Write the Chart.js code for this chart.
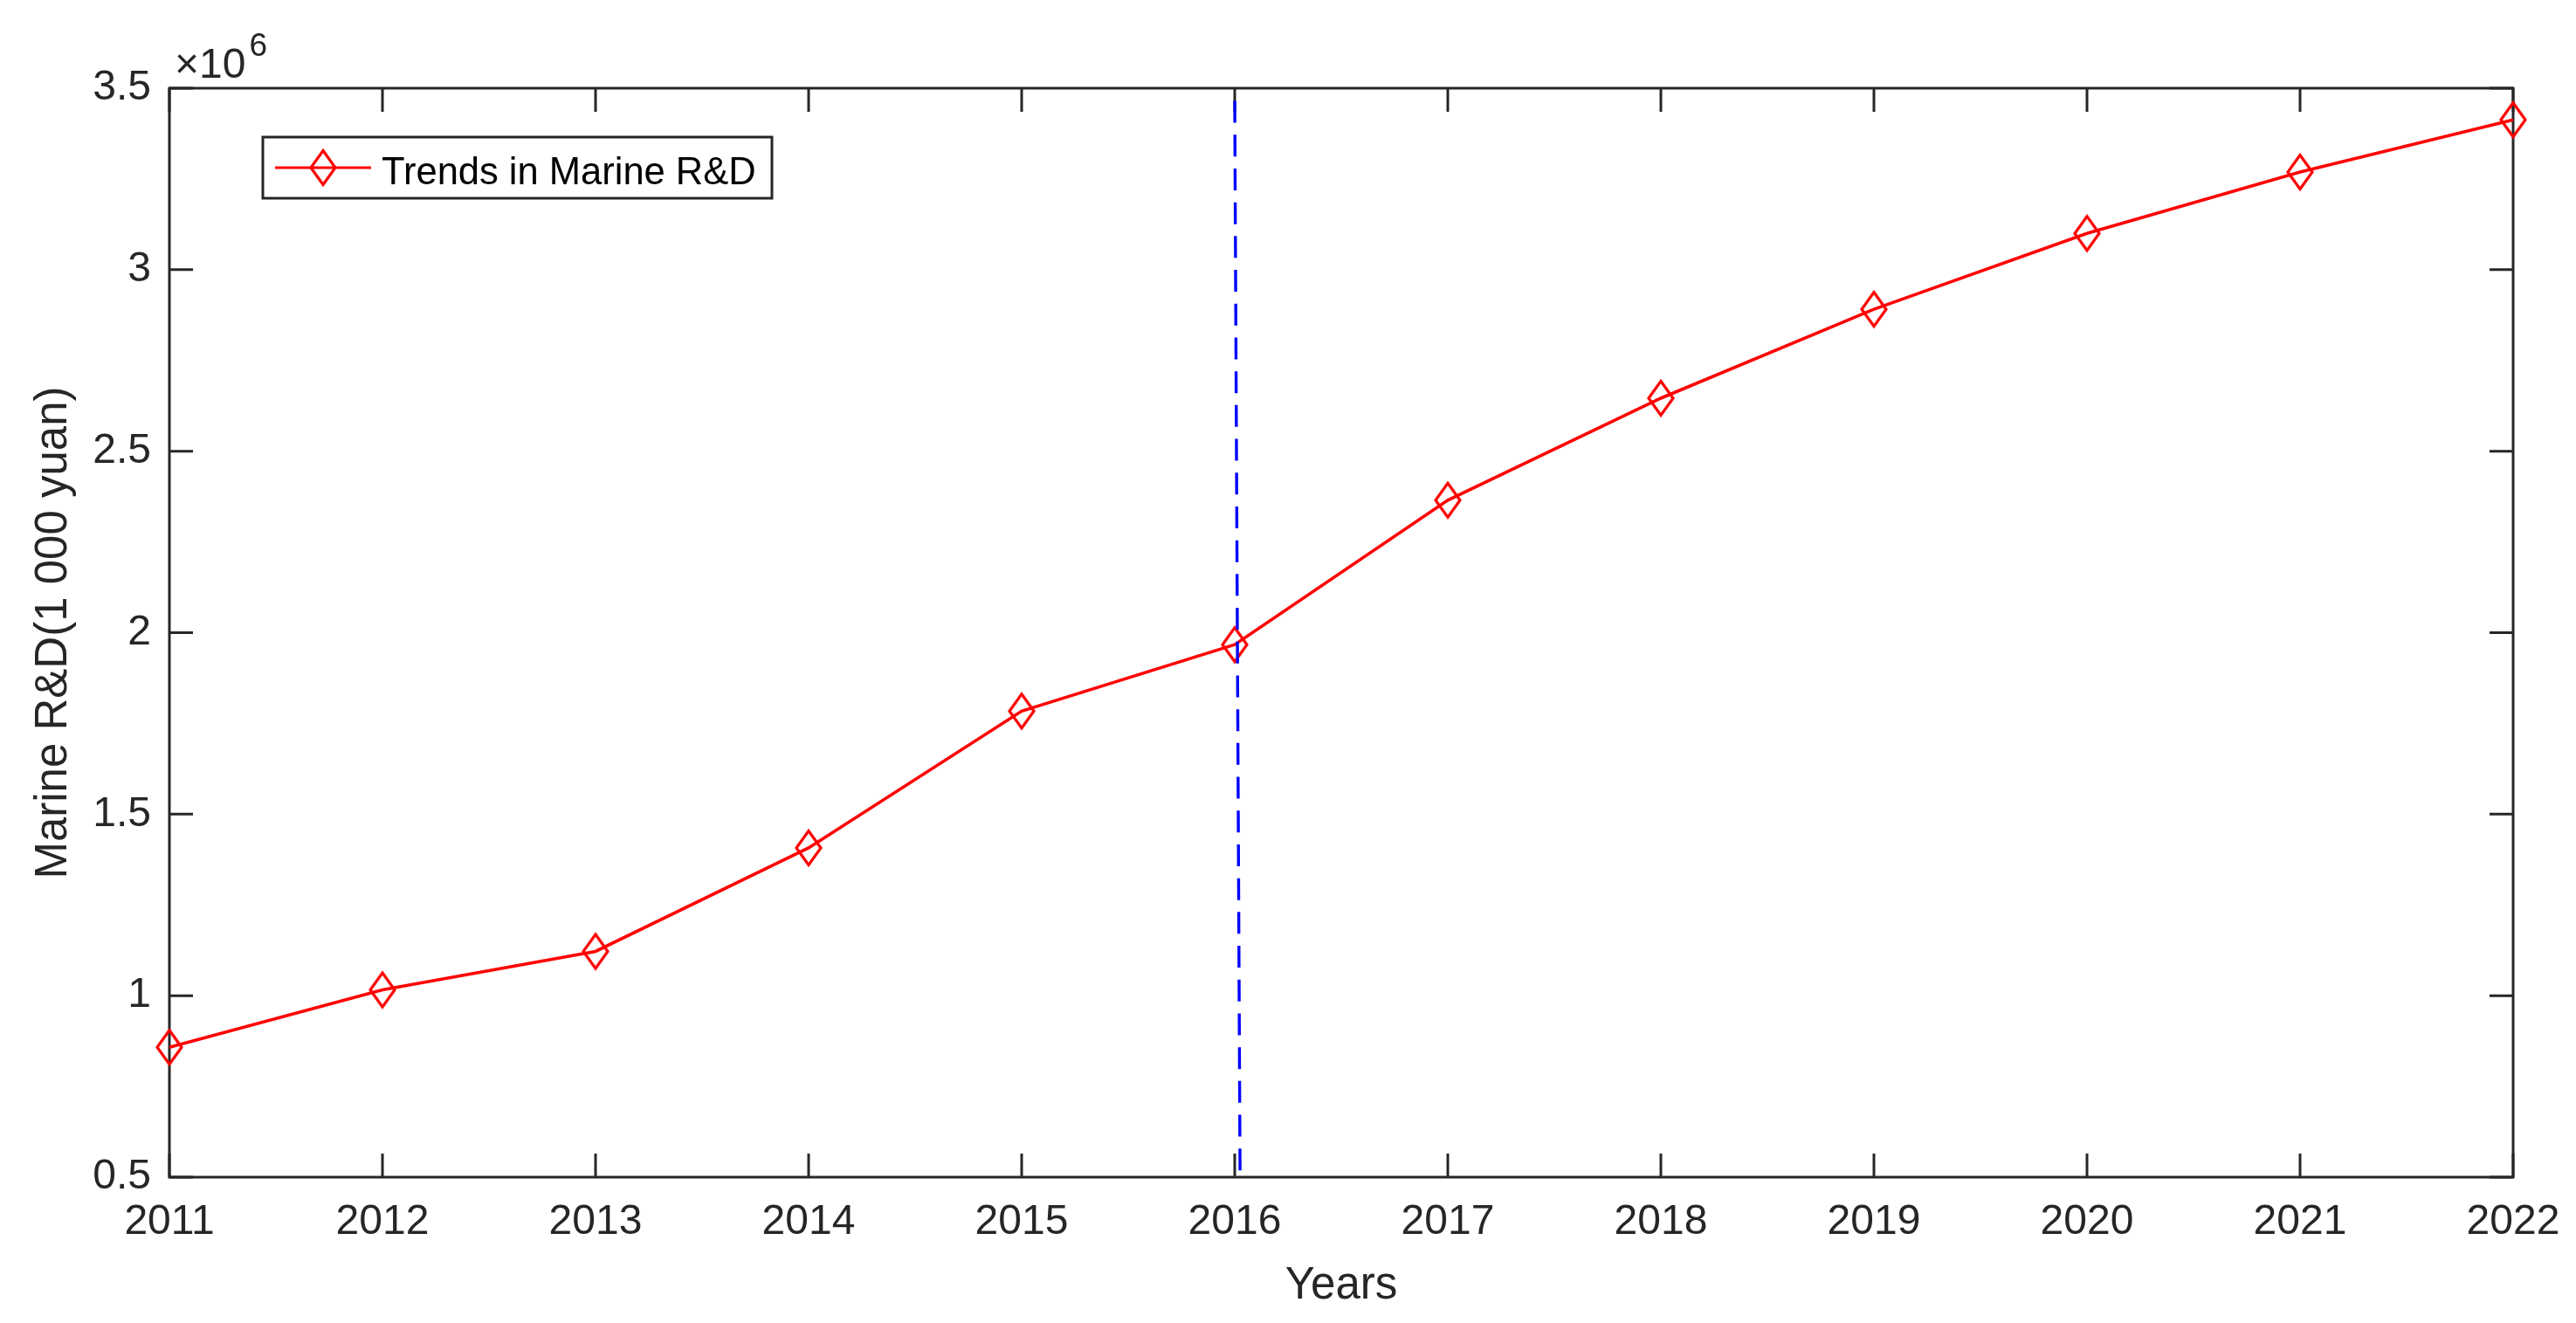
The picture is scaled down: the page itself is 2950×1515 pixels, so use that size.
<!DOCTYPE html>
<html>
<head>
<meta charset="utf-8">
<title>Trends in Marine R&D</title>
<script src="https://cdn.jsdelivr.net/npm/chart.js@4.4.1/dist/chart.umd.min.js"></script>
<style>
  html, body { margin: 0; padding: 0; background: #ffffff; }
  #wrap { width: 2950px; height: 1515px; }
</style>
</head>
<body>
<div id="wrap"><canvas id="myChart" width="2950" height="1515"></canvas></div>
<script>
// data (values in 1 000 yuan)
const years = [2011, 2012, 2013, 2014, 2015, 2016, 2017, 2018, 2019, 2020, 2021, 2022];
const marineRD = [858000, 1016000, 1122000, 1407000, 1784000, 1967000, 2365000, 2646000, 2891000, 3100000, 3269000, 3413000];
const seriesLabel = 'Trends in Marine R&D';

// dashed marker line at 2016 (slightly slanted in the original)
const cutX = [2016.0, 2016.025];
const cutY = [3465000, 500000];

// axis ticks
const yTicks = [500000, 1000000, 1500000, 2000000, 2500000, 3000000, 3500000];
const xMin = 2011, xMax = 2022;

const axisColor = '#262626';
const fontFamily = '"Liberation Sans", Arial, Helvetica, sans-serif';

(function() {
    function diamondMarker() {
        const c = document.createElement('canvas');
        c.width = 34;
        c.height = 46;
        const g = c.getContext('2d');
        g.strokeStyle = '#ff0000';
        g.lineWidth = 3.2;
        g.beginPath();
        g.moveTo(17, 3.5);
        g.lineTo(31, 23);
        g.lineTo(17, 42.5);
        g.lineTo(3, 23);
        g.closePath();
        g.stroke();
        return c;
    }
    const marker = diamondMarker();

    // box, inward ticks, exponent label and legend like the MATLAB figure
    const matlabAxes = {
        id: 'matlabAxes',
        beforeDatasetsDraw(chart) {
            const ctx = chart.ctx;
            const a = chart.chartArea;
            const xs = chart.scales.x, ys = chart.scales.y;
            const tl = 27;
            ctx.save();
            ctx.strokeStyle = axisColor;
            ctx.lineWidth = 3;
            ctx.strokeRect(a.left, a.top, a.right - a.left, a.bottom - a.top);
            ctx.beginPath();
            xs.ticks.forEach(t => {
                const px = xs.getPixelForValue(t.value);
                ctx.moveTo(px, a.bottom); ctx.lineTo(px, a.bottom - tl);
                ctx.moveTo(px, a.top); ctx.lineTo(px, a.top + tl);
            });
            ys.ticks.forEach(t => {
                const py = ys.getPixelForValue(t.value);
                ctx.moveTo(a.left, py); ctx.lineTo(a.left + tl, py);
                ctx.moveTo(a.right, py); ctx.lineTo(a.right - tl, py);
            });
            ctx.stroke();
            ctx.restore();
        },
        afterDraw(chart) {
            const ctx = chart.ctx;
            const a = chart.chartArea;
            ctx.save();
            // x10^6 exponent
            ctx.fillStyle = axisColor;
            ctx.textBaseline = 'alphabetic';
            ctx.textAlign = 'left';
            ctx.font = '48px ' + fontFamily;
            ctx.fillText('\u00d710', a.left + 6, a.top - 12);
            const w = ctx.measureText('\u00d710').width;
            ctx.font = '37px ' + fontFamily;
            ctx.fillText('6', a.left + 6 + w + 4, a.top - 37);

            // legend box
            const bx = 301, by = 157, bw = 583, bh = 70;
            ctx.fillStyle = '#ffffff';
            ctx.fillRect(bx, by, bw, bh);
            ctx.strokeStyle = axisColor;
            ctx.lineWidth = 3;
            ctx.strokeRect(bx, by, bw, bh);
            const ly = by + bh / 2;
            ctx.strokeStyle = '#ff0000';
            ctx.lineWidth = 3.2;
            ctx.beginPath();
            ctx.moveTo(315, ly);
            ctx.lineTo(425, ly);
            ctx.stroke();
            ctx.drawImage(marker, 370 - marker.width / 2, ly - marker.height / 2);
            ctx.fillStyle = '#000000';
            ctx.font = '43.5px ' + fontFamily;
            ctx.fillText(chart.data.datasets[1].label, 437, 211);
            ctx.restore();
        }
    };

    const ctx = document.getElementById('myChart');
    new Chart(ctx, {
        type: 'line',
        data: {
            datasets: [{
                label: 'cut',
                data: cutX.map((x, i) => ({ x: x, y: cutY[i] })),
                borderColor: '#0000ff',
                borderWidth: 3.4,
                borderDash: [25, 13.7],
                pointRadius: 0,
                fill: false,
                tension: 0
            }, {
                label: seriesLabel,
                data: years.map((yr, i) => ({ x: yr, y: marineRD[i] })),
                borderColor: '#ff0000',
                borderWidth: 3.6,
                pointStyle: marker,
                pointRadius: 20,
                fill: false,
                tension: 0,
                clip: false
            }]
        },
        options: {
            responsive: false,
            animation: false,
            devicePixelRatio: 1,
            layout: { padding: { top: 101, right: 72, left: 0, bottom: 0 } },
            plugins: {
                legend: { display: false },
                tooltip: { enabled: false }
            },
            scales: {
                x: {
                    type: 'linear',
                    min: xMin,
                    max: xMax,
                    afterFit(scale) {
                        scale.height = 167;
                        scale.paddingLeft = 0;
                        scale.paddingRight = 0;
                    },
                    afterBuildTicks(scale) {
                        scale.ticks = years.map(v => ({ value: v }));
                    },
                    ticks: {
                        color: axisColor,
                        font: { family: fontFamily, size: 48, lineHeight: 1 },
                        padding: 28,
                        maxRotation: 0,
                        autoSkip: false,
                        callback: v => String(v)
                    },
                    grid: { display: false, drawTicks: false },
                    border: { display: false },
                    title: {
                        display: true,
                        text: 'Years',
                        color: axisColor,
                        font: { family: fontFamily, size: 51, lineHeight: 1 },
                        padding: { top: 0, bottom: 17 }
                    }
                },
                y: {
                    type: 'linear',
                    min: 500000,
                    max: 3500000,
                    afterFit(scale) {
                        scale.width = 194;
                        scale.paddingTop = 0;
                        scale.paddingBottom = 0;
                    },
                    afterBuildTicks(scale) {
                        scale.ticks = yTicks.map(v => ({ value: v }));
                    },
                    ticks: {
                        color: axisColor,
                        font: { family: fontFamily, size: 48, lineHeight: 1 },
                        padding: 21,
                        autoSkip: false,
                        callback: v => String(v / 1e6)
                    },
                    grid: { display: false, drawTicks: false },
                    border: { display: false },
                    title: {
                        display: true,
                        text: 'Marine R&D(1 000 yuan)',
                        color: axisColor,
                        font: { family: fontFamily, size: 51, lineHeight: 1 },
                        padding: { top: 36, bottom: 0 }
                    }
                }
            }
        },
        plugins: [matlabAxes]
    });
})();
</script>
</body>
</html>
